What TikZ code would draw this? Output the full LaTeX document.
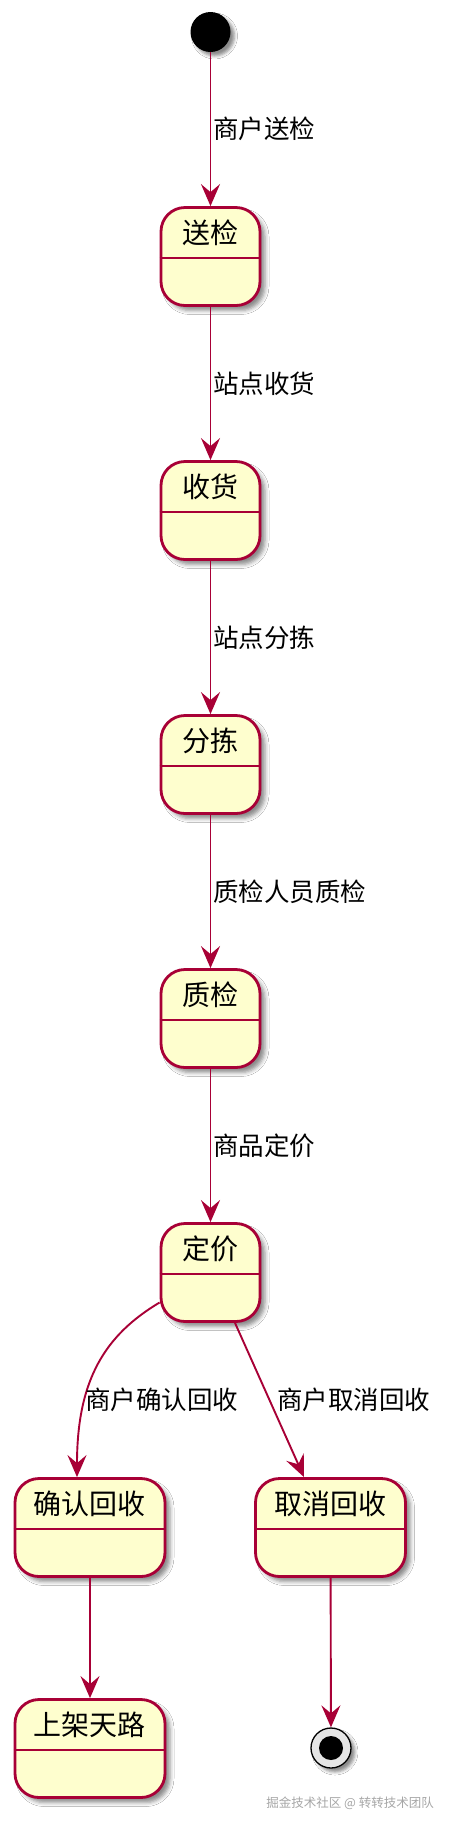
\documentclass[tikz,border=0pt]{standalone}
\usepackage{fontspec}
\newfontfamily\cjk{Noto Sans CJK SC}
\usetikzlibrary{arrows.meta,shadows.blur}
\definecolor{umlred}{HTML}{A80036}
\definecolor{umlfill}{HTML}{FEFECE}
\newcommand\mystate[5]{%
  \node[statebox, minimum width=#4pt] (#1) at (#2,#3+50.5) {};
  \draw[divider] ([yshift=-1.5pt]#1.west) -- ([yshift=-1.5pt]#1.east);
  \node[title] (#1-t) at ([yshift=23.5pt]#1.center) {#5};
}
\begin{document}
\begin{tikzpicture}[x=1pt,y=-1pt,
  statebox/.style={draw=umlred, fill=umlfill, line width=2.8pt, rounded corners=24pt,
    minimum height=98pt, inner sep=0pt,
    blur shadow={shadow xshift=5pt, shadow yshift=-5pt, shadow blur radius=4pt, shadow opacity=45}},
  divider/.style={draw=umlred, line width=2.8pt},
  title/.style={font=\cjk\fontsize{28}{32}\selectfont, inner sep=0pt},
  lbl/.style={font=\cjk\fontsize{25.5}{30}\selectfont, inner sep=0pt, anchor=west},
  arr/.style={draw=umlred, line width=1.9pt, -{Stealth[length=22pt,width=19pt,inset=8pt]}},
]
\fill[white] (0,0) rectangle (448,1824);
\useasboundingbox (0,0) rectangle (448,1824);

\node[circle, fill=black, minimum size=40pt, inner sep=0pt,
  blur shadow={shadow xshift=4pt, shadow yshift=-4pt, shadow blur radius=3pt, shadow opacity=45}] (start) at (210.5,32) {};

\mystate{s1}{210.5}{206}{99}{送检}
\mystate{s2}{210.5}{460}{99}{收货}
\mystate{s3}{210.5}{714}{99}{分拣}
\mystate{s4}{210.5}{968}{99}{质检}
\mystate{dj}{210.5}{1222}{99}{定价}
\mystate{qr}{90}{1477}{150}{确认回收}
\mystate{qc}{330.5}{1477}{150}{取消回收}
\mystate{sj}{90}{1698}{150}{上架天路}

\node[circle, draw=black, fill=gray!20, line width=1.3pt, minimum size=40pt, inner sep=0pt,
  blur shadow={shadow xshift=4pt, shadow yshift=-4pt, shadow blur radius=3pt, shadow opacity=45}] (end) at (331,1748) {};
\node[circle, fill=black, minimum size=24pt, inner sep=0pt] (endin) at (end.center) {};

\draw[arr] (start) -- (s1) node[lbl, midway, xshift=2pt] (l1) {商户送检};
\draw[arr] (s1) -- (s2) node[lbl, midway, xshift=2pt] (l2) {站点收货};
\draw[arr] (s2) -- (s3) node[lbl, midway, xshift=2pt] (l3) {站点分拣};
\draw[arr] (s3) -- (s4) node[lbl, midway, xshift=2pt] (l4) {质检人员质检};
\draw[arr] (s4) -- (dj) node[lbl, midway, xshift=2pt] (l5) {商品定价};

\draw[arr] ([yshift=-30pt]dj.west) .. controls (105,1335) and (77,1380) .. ([xshift=-13pt]qr.north);
\node[lbl] (l6) at (85,1400) {商户确认回收};
\draw[arr] ([xshift=24.5pt]dj.south) -- ([xshift=-26.5pt]qc.north);
\node[lbl] (l7) at (277,1400) {商户取消回收};

\draw[arr] (qr) -- (sj);
\draw[arr] (qc) -- (end);

\node[font=\cjk\fontsize{12.5}{15}\selectfont, text=gray!70, anchor=east, inner sep=0pt] (wm) at (434,1803) {掘金技术社区 @ 转转技术团队};
\end{tikzpicture}
\end{document}
